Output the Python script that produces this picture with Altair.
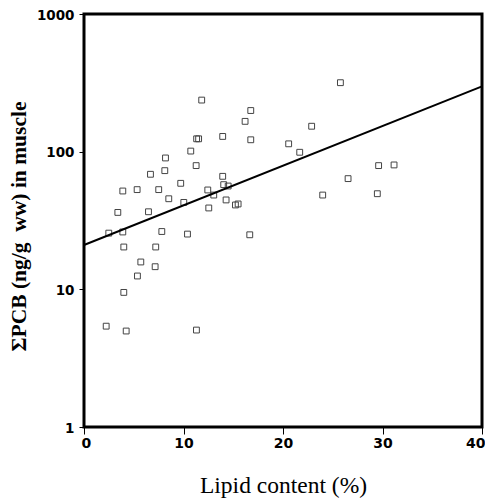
import altair as alt
import pandas as pd

# scatter data: lipid content (%) and sum PCB (ng/g ww)
lipid = [11.83, 11.32, 11.52, 13.94, 10.73, 8.19, 8.12, 6.68, 11.27, 13.94,
         3.90, 5.34, 7.51, 9.72, 12.44, 8.52, 10.03, 13.04, 14.04, 14.49,
         14.28, 12.54, 3.40, 6.48, 2.49, 3.90, 7.82, 10.40, 4.00, 7.21,
         5.71, 7.15, 5.37, 4.00, 2.23, 4.24, 11.30, 25.77, 16.76, 16.19,
         22.88, 16.76, 20.57, 21.68, 15.22, 15.49, 16.66, 26.54, 29.61, 31.16,
         29.48, 23.99]
pcb = [237, 124, 124, 129, 101, 90, 72.8, 68.5, 79.2, 66.2,
       51.8, 53, 53, 58.9, 52.7, 45.5, 42.8, 48.4, 57.6, 56.3,
       44.6, 39, 36.2, 36.6, 25.6, 26.1, 26.3, 25.2, 20.3, 20.3,
       15.8, 14.6, 12.5, 9.5, 5.4, 4.98, 5.06, 317, 199, 166,
       153, 122, 114, 99, 41, 41.7, 24.9, 63.7, 79.2, 80.1,
       49.5, 48.4]

# regression line end points
fit_x = [0, 40]
fit_y = [21, 298]

x_ticks = [0, 10, 20, 30, 40]
y_ticks = [1, 10, 100, 1000]

pts = pd.DataFrame({"lipid": lipid, "pcb": pcb})
fit = pd.DataFrame({"lipid": fit_x, "pcb": fit_y})

xscale = alt.Scale(domain=[0, 40], nice=False, zero=False)
yscale = alt.Scale(type="log", domain=[1, 1000], nice=False)

xaxis = alt.Axis(values=x_ticks, title="Lipid content (%)", grid=False, domain=False,
                 tickSize=7, tickColor="black", tickWidth=1, labelPadding=2,
                 labelFont="DejaVu Sans", labelFontWeight="bold", labelFontSize=14,
                 labelColor="black", titleFont="Liberation Serif", titleFontSize=23.5,
                 titleFontWeight="normal", titleColor="black", titleBaseline="alphabetic",
                 titleY=65, labelFlush=True, labelFlushOffset=3)
yaxis = alt.Axis(values=y_ticks, title="ΣPCB (ng/g\u00a0 ww) in muscle", grid=False, domain=False,
                 format="d", tickSize=5, tickColor="black", tickWidth=1, labelPadding=5,
                 labelFont="DejaVu Sans", labelFontWeight="bold", labelFontSize=13.5,
                 labelOffset=1, labelColor="black", titleFont="Liberation Serif",
                 titleFontSize=21.5, titleFontWeight="bold", titleColor="black",
                 titleAngle=-90, titleBaseline="alphabetic", titleAlign="center",
                 titleX=-59, titleY=212, labelFlush=False)

points = alt.Chart(pts).mark_point(shape="square", filled=False, size=34,
                                    color="#444444", strokeWidth=1, opacity=1).encode(
    x=alt.X("lipid:Q", scale=xscale, axis=xaxis),
    y=alt.Y("pcb:Q", scale=yscale, axis=yaxis),
)

line = alt.Chart(fit).mark_line(color="black", strokeWidth=2).encode(
    x=alt.X("lipid:Q", scale=xscale),
    y=alt.Y("pcb:Q", scale=yscale),
)

chart = alt.layer(points, line).properties(
    width=398, height=413,
    autosize=alt.AutoSizeParams(type="none"),
    padding={"left": 76, "top": 6, "right": 3, "bottom": 72},
).configure(
    background="white",
    view=alt.ViewConfig(stroke="black", strokeWidth=3),
)

chart.save("out.html", embed_options={"renderer": "svg", "actions": False})
